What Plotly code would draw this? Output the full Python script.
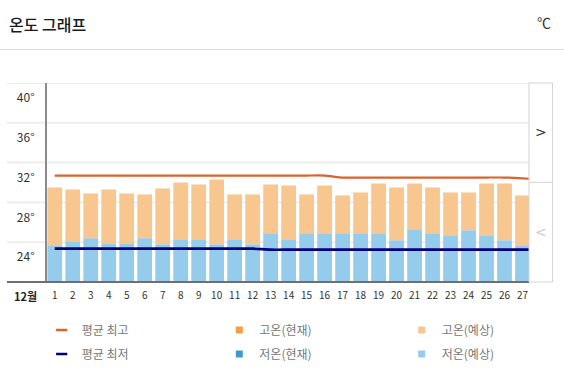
import plotly.graph_objects as go

# ---------------- data ----------------
days = list(range(1, 28))
day_labels = [str(d) for d in days]
high_forecast = [29.5, 29.3, 28.9, 29.3, 28.9, 28.8, 29.4, 30.0, 29.8, 30.3,
                 28.8, 28.8, 29.8, 29.7, 28.8, 29.7, 28.7, 29.0, 29.9, 29.5,
                 29.9, 29.5, 29.0, 29.0, 29.9, 29.9, 28.7]
low_forecast = [23.7, 24.1, 24.4, 23.9, 23.9, 24.4, 23.8, 24.3, 24.3, 23.8,
                24.3, 23.8, 24.9, 24.3, 24.9, 24.9, 24.9, 24.9, 24.9, 24.2,
                25.3, 24.9, 24.7, 25.2, 24.7, 24.2, 23.7]
high_current = []
low_current = []
line_days = list(range(1, 29))
avg_max = [30.7] * 16 + [30.5] * 10 + [30.42, 30.3]
avg_min = [23.35] * 12 + [23.25] * 16
y_ticks = [24, 28, 32, 36, 40]
y_tick_labels = ["24°", "28°", "32°", "36°", "40°"]
month_label = "12월"

names = ["평균 최고", "평균 최저", "고온(현재)", "저온(현재)", "고온(예상)", "저온(예상)"]

# ---------------- styles ----------------
C_MAX = "#dc622c"
C_MIN = "#00007f"
C_HI_CUR = "#f5a040"
C_LO_CUR = "#3a9ccc"
C_HI_FC = "#f8c78f"
C_LO_FC = "#95cbeb"
FONT = "Noto Sans CJK KR"

W, H = 564, 383
PL, PR, PT, PB = 47, 529, 83, 282


def px_x(x):
    return (x - PL) / (PR - PL)


def px_y(y):
    return (PB - y) / (PB - PT)


fig = go.Figure()

# low (forecast) bars
fig.add_trace(go.Bar(x=days, y=low_forecast, marker=dict(color=C_LO_FC, line=dict(width=0)),
                     width=0.82, showlegend=False, legendgroup="lo_fc"))
# high (forecast) bars stacked on lows
fig.add_trace(go.Bar(x=days, y=[h - l for h, l in zip(high_forecast, low_forecast)],
                     base=low_forecast, marker=dict(color=C_HI_FC, line=dict(width=0)),
                     width=0.82, showlegend=False, legendgroup="hi_fc"))

# average lines
fig.add_trace(go.Scatter(x=line_days, y=avg_max, mode="lines",
                         line=dict(color=C_MAX, width=2.2, shape="spline", smoothing=0.5),
                         showlegend=False, legendgroup="max"))
fig.add_trace(go.Scatter(x=line_days, y=avg_min, mode="lines",
                         line=dict(color=C_MIN, width=2.6, shape="spline", smoothing=0.5),
                         showlegend=False, legendgroup="min"))

# legend entries (three columns, two rows)
legend_specs = [
    (names[0], "line-ew", C_MAX, "legend", "max"),
    (names[1], "line-ew", C_MIN, "legend", "min"),
    (names[2], "square", C_HI_CUR, "legend2", "hi_cur"),
    (names[3], "square", C_LO_CUR, "legend2", "lo_cur"),
    (names[4], "square", C_HI_FC, "legend3", "hi_fc"),
    (names[5], "square", C_LO_FC, "legend3", "lo_fc"),
]
for name, sym, col, leg, grp in legend_specs:
    if sym == "line-ew":
        mk = dict(symbol=sym, size=8, color=col, line=dict(color=col, width=2.5))
    else:
        mk = dict(symbol=sym, size=7, color=col, line=dict(width=0))
    fig.add_trace(go.Scatter(x=[None], y=[None], mode="markers", name=name, marker=mk,
                             legend=leg, legendgroup=grp, showlegend=True))

shapes = []
# grid lines (extend into left margin)
for v in y_ticks:
    shapes.append(dict(type="line", xref="paper", yref="y", x0=px_x(7), x1=1, y0=v, y1=v,
                       line=dict(color="#eeeeee", width=2), layer="below"))
# bottom axis line
shapes.append(dict(type="line", xref="paper", yref="paper", x0=px_x(7), x1=1, y0=0, y1=0,
                   line=dict(color="#6f6f6f", width=2), layer="above"))
# header separator
shapes.append(dict(type="line", xref="paper", yref="paper", x0=px_x(0), x1=px_x(W),
                   y0=px_y(49.5), y1=px_y(49.5), line=dict(color="#dddddd", width=1)))
# right navigation panel
shapes.append(dict(type="rect", xref="paper", yref="paper", x0=1, x1=px_x(552.5), y0=0, y1=1,
                   line=dict(color="#d4d4d4", width=1)))
shapes.append(dict(type="line", xref="paper", yref="paper", x0=1, x1=px_x(552.5),
                   y0=px_y(182.3), y1=px_y(182.3), line=dict(color="#d4d4d4", width=1)))

annotations = [
    dict(text="온도 그래프", xref="paper", yref="paper", x=px_x(7), y=px_y(24),
         xanchor="left", yanchor="middle", showarrow=False,
         font=dict(family=FONT, size=16, color="#1a1a1a", weight=500)),
    dict(text="℃", xref="paper", yref="paper", x=px_x(553), y=px_y(22),
         xanchor="right", yanchor="middle", showarrow=False,
         font=dict(family=FONT, size=14, color="#333333")),
    dict(text=month_label, xref="paper", yref="paper", x=px_x(12), y=px_y(296),
         xanchor="left", yanchor="middle", showarrow=False,
         font=dict(family=FONT, size=11, color="#222222", weight="bold")),
    dict(text=">", xref="paper", yref="paper", x=px_x(540.5), y=px_y(132),
         xanchor="center", yanchor="middle", showarrow=False,
         font=dict(family="DejaVu Sans", size=14, color="#333333")),
    dict(text="<", xref="paper", yref="paper", x=px_x(540.5), y=px_y(232),
         xanchor="center", yanchor="middle", showarrow=False,
         font=dict(family="DejaVu Sans", size=14, color="#cccccc")),
]

legend_common = dict(orientation="v", xanchor="left", yanchor="top",
                     traceorder="grouped", tracegroupgap=5,
                     font=dict(family=FONT, size=12, color="#777777"),
                     bgcolor="rgba(0,0,0,0)", borderwidth=0, itemclick=False)
LEG_TOP = 315.5

fig.update_layout(
    width=W, height=H,
    margin=dict(l=PL, r=W - PR, t=PT, b=H - PB, pad=0, autoexpand=False),
    paper_bgcolor="white", plot_bgcolor="white",
    barmode="overlay",
    font=dict(family=FONT, color="#333333"),
    xaxis=dict(range=[0.57, 27.36], tickmode="array", tickvals=days, ticktext=day_labels,
               showgrid=False, zeroline=False, showline=False, ticks="",
               ticklabelstandoff=6,
               tickfont=dict(family=FONT, size=10, color="#333333"), fixedrange=True),
    yaxis=dict(range=[20, 40], tickmode="array", tickvals=y_ticks, ticktext=y_tick_labels,
               showgrid=False, zeroline=False, showline=True, linecolor="#8a8a8a", linewidth=2,
               ticks="", ticklabelshift=15, ticklabelstandoff=8,
               tickfont=dict(family=FONT, size=12, color="#333333"), fixedrange=True),
    legend=dict(x=px_x(41.7), y=px_y(LEG_TOP), **legend_common),
    legend2=dict(x=px_x(219.3), y=px_y(LEG_TOP), **legend_common),
    legend3=dict(x=px_x(401.7), y=px_y(LEG_TOP), **legend_common),
    shapes=shapes,
    annotations=annotations,
    hovermode=False,
)

fig.write_html("out.html", config={"displayModeBar": False},
               post_script="document.body.style.margin='0';")
